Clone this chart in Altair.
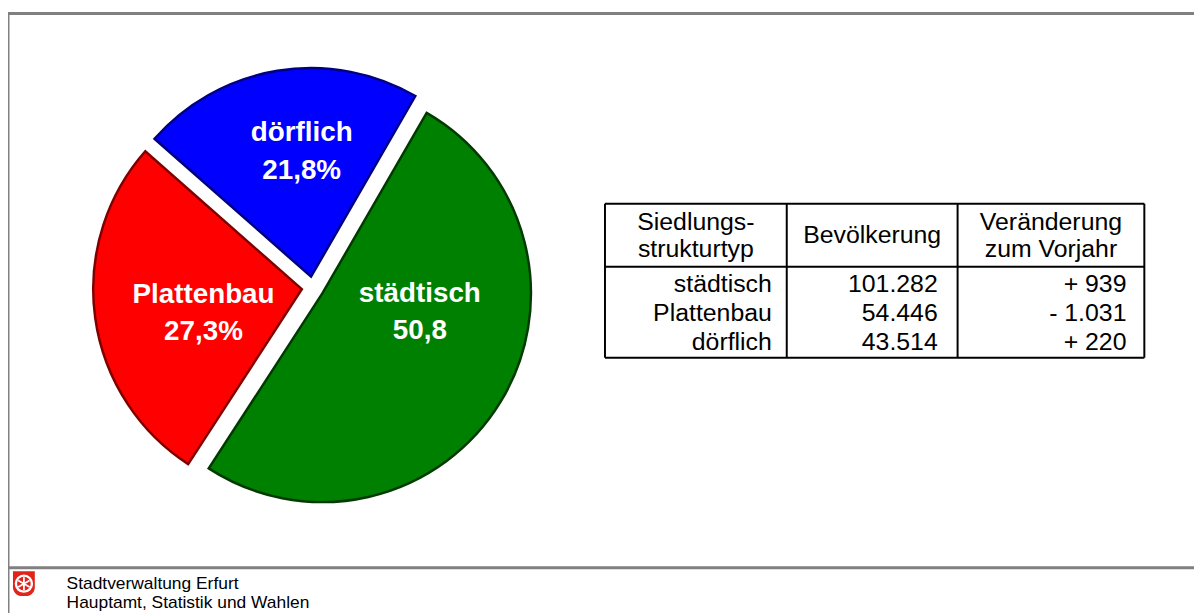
import altair as alt
import pandas as pd

# ---------------- data ----------------
types = ["städtisch", "Plattenbau", "dörflich"]
population = [101282, 54446, 43514]
population_labels = ["101.282", "54.446", "43.514"]
change_labels = ["+ 939", "- 1.031", "+ 220"]
pie_value_labels = ["50,8", "27,3%", "21,8%"]
header_col1 = ["Siedlungs-", "strukturtyp"]
header_col2 = ["Bevölkerung"]
header_col3 = ["Veränderung", "zum Vorjahr"]
footer_lines = ["Stadtverwaltung Erfurt", "Hauptamt, Statistik und Wahlen"]

# ---------------- styles / layout ----------------
W, H = 1194, 607
FONT = "Liberation Sans"
fills = ["#008000", "#FF0000", "#0000FF"]
strokes = ["#003A00", "#800000", "#000080"]
CX, CY, R, EXPLODE, START_DEG = 306.9, 279.5, 210, 11.2, 30
LAB_FS, LAB_LH = 28, 38
# label placement (angle deg clockwise from north, distance px) relative to each slice's apex
label_angle = {"städtisch": 101, "Plattenbau": 256, "dörflich": 355.7}
label_dist = {"städtisch": 100, "Plattenbau": 102, "dörflich": 126}

# table layout (pixels)
TX0, TX1, TY0, TY1 = 601, 1144, 195, 350
T_HEAD = 258.5
T_COLS = [784, 956]
T_ROW0, T_ROWH = 284, 29
T_RIGHT = [769, 936, 1126]
T_FS = 25

df = pd.DataFrame({
    "type": types,
    "pop": population,
    "pct": pie_value_labels,
    "order": list(range(len(types))),
    "lab_ang": [label_angle[t] for t in types],
    "lab_r": [label_dist[t] for t in types],
})

base = (
    alt.Chart(df)
    .transform_joinaggregate(total="sum(pop)")
    .transform_window(cum="sum(pop)", sort=[alt.SortField("order")], frame=[None, 0])
    .transform_calculate(
        t0=f"{START_DEG}*PI/180 + 2*PI*(datum.cum - datum.pop)/datum.total",
        t1=f"{START_DEG}*PI/180 + 2*PI*datum.cum/datum.total",
        mid="(datum.t0 + datum.t1)/2",
        cx=f"{CX} + {EXPLODE}*sin(datum.mid)",
        cy=f"{CY} - {EXPLODE}*cos(datum.mid)",
        lx="datum.cx + datum.lab_r*sin(datum.lab_ang*PI/180)",
        ly="datum.cy - datum.lab_r*cos(datum.lab_ang*PI/180)",
        label="datum.type + '\\n' + datum.pct",
    )
)

slices = base.mark_arc(outerRadius=R, strokeWidth=2.5, strokeJoin="miter").encode(
    x=alt.X("cx:Q", scale=None, axis=None),
    y=alt.Y("cy:Q", scale=None, axis=None),
    theta=alt.Theta("t0:Q", scale=None),
    theta2="t1:Q",
    color=alt.Color("type:N", scale=alt.Scale(domain=types, range=fills), legend=None),
    stroke=alt.Stroke("type:N", scale=alt.Scale(domain=types, range=strokes), legend=None),
)

slice_labels = base.mark_text(
    font=FONT, fontSize=LAB_FS, fontWeight="bold", color="white",
    align="center", baseline="middle", lineBreak="\n", lineHeight=LAB_LH,
    dy=-LAB_LH / 2,
).encode(
    x=alt.X("lx:Q", scale=None, axis=None),
    y=alt.Y("ly:Q", scale=None, axis=None),
    text="label:N",
)

# ---------------- frame ----------------
frame_df = pd.DataFrame({
    "x": [0, 0, 0], "x2": [W, 0, W],
    "y": [3.5, 3.5, 561.5], "y2": [3.5, H, 561.5],
})
frame = alt.Chart(frame_df).mark_rule(color="#808080", strokeWidth=3).encode(
    x=alt.X("x:Q", scale=None, axis=None), x2="x2:Q",
    y=alt.Y("y:Q", scale=None, axis=None), y2="y2:Q",
)

# ---------------- table ----------------
tl = pd.DataFrame({
    "x": [TX0, TX0, TX0, TX1, TX0, T_COLS[0], T_COLS[1]],
    "x2": [TX1, TX1, TX0, TX1, TX1, T_COLS[0], T_COLS[1]],
    "y": [TY0, TY1, TY0, TY0, T_HEAD, TY0, TY0],
    "y2": [TY0, TY1, TY1, TY1, T_HEAD, TY1, TY1],
})
table_lines = alt.Chart(tl).mark_rule(color="black", strokeWidth=2).encode(
    x=alt.X("x:Q", scale=None, axis=None), x2="x2:Q",
    y=alt.Y("y:Q", scale=None, axis=None), y2="y2:Q",
)

rows = pd.DataFrame({
    "type": types,
    "pop": population_labels,
    "chg": change_labels,
    "i": list(range(len(types))),
})
row_base = alt.Chart(rows).transform_calculate(ry=f"{T_ROW0} + datum.i*{T_ROWH}")
row_layers = []
for field, xr in zip(["type", "pop", "chg"], T_RIGHT):
    row_layers.append(
        row_base.mark_text(font=FONT, fontSize=T_FS, align="right", baseline="alphabetic", color="black")
        .encode(x=alt.value(xr), y=alt.Y("ry:Q", scale=None, axis=None), text=f"{field}:N")
    )

hc = [(TX0 + T_COLS[0]) / 2, (T_COLS[0] + T_COLS[1]) / 2, (T_COLS[1] + TX1) / 2]
head_df = pd.DataFrame({
    "text": header_col1 + header_col2 + header_col3,
    "x": [hc[0], hc[0], hc[1], hc[2], hc[2]],
    "y": [221, 249, 235, 221, 249],
})
header = alt.Chart(head_df).mark_text(
    font=FONT, fontSize=T_FS, align="center", baseline="alphabetic", color="black"
).encode(
    x=alt.X("x:Q", scale=None, axis=None), y=alt.Y("y:Q", scale=None, axis=None), text="text:N"
)

# ---------------- footer ----------------
foot_df = pd.DataFrame({"text": footer_lines, "y": [583, 602]})
footer = alt.Chart(foot_df).mark_text(
    font=FONT, fontSize=17.5, align="left", baseline="alphabetic", color="black"
).encode(x=alt.value(59), y=alt.Y("y:Q", scale=None, axis=None), text="text:N")

one = pd.DataFrame({"a": [0]})
logo_bg = alt.Chart(one).mark_rect(
    color="#E2231A", cornerRadiusBottomLeft=9, cornerRadiusBottomRight=9
).encode(x=alt.value(5), x2=alt.value(27), y=alt.value(565), y2=alt.value(590))
logo_ring = alt.Chart(one).mark_point(
    shape="circle", filled=False, color="white", strokeWidth=2.4, size=260, opacity=1
).encode(x=alt.value(16), y=alt.value(577.5))
logo_spokes = alt.Chart(one).mark_point(
    shape="M0,-1L0,1M-0.87,-0.5L0.87,0.5M-0.87,0.5L0.87,-0.5",
    filled=False, color="white", strokeWidth=1.8, size=170, opacity=1
).encode(x=alt.value(16), y=alt.value(577.5))

chart = alt.layer(
    frame, slices, slice_labels, table_lines, header, *row_layers,
    footer, logo_bg, logo_ring, logo_spokes,
).properties(
    width=W, height=H, padding=0, autosize=alt.AutoSizeParams(type="none"),
    background="white",
).configure_view(stroke=None)

chart.save("out.html", embed_options={"renderer": "svg", "actions": False})
